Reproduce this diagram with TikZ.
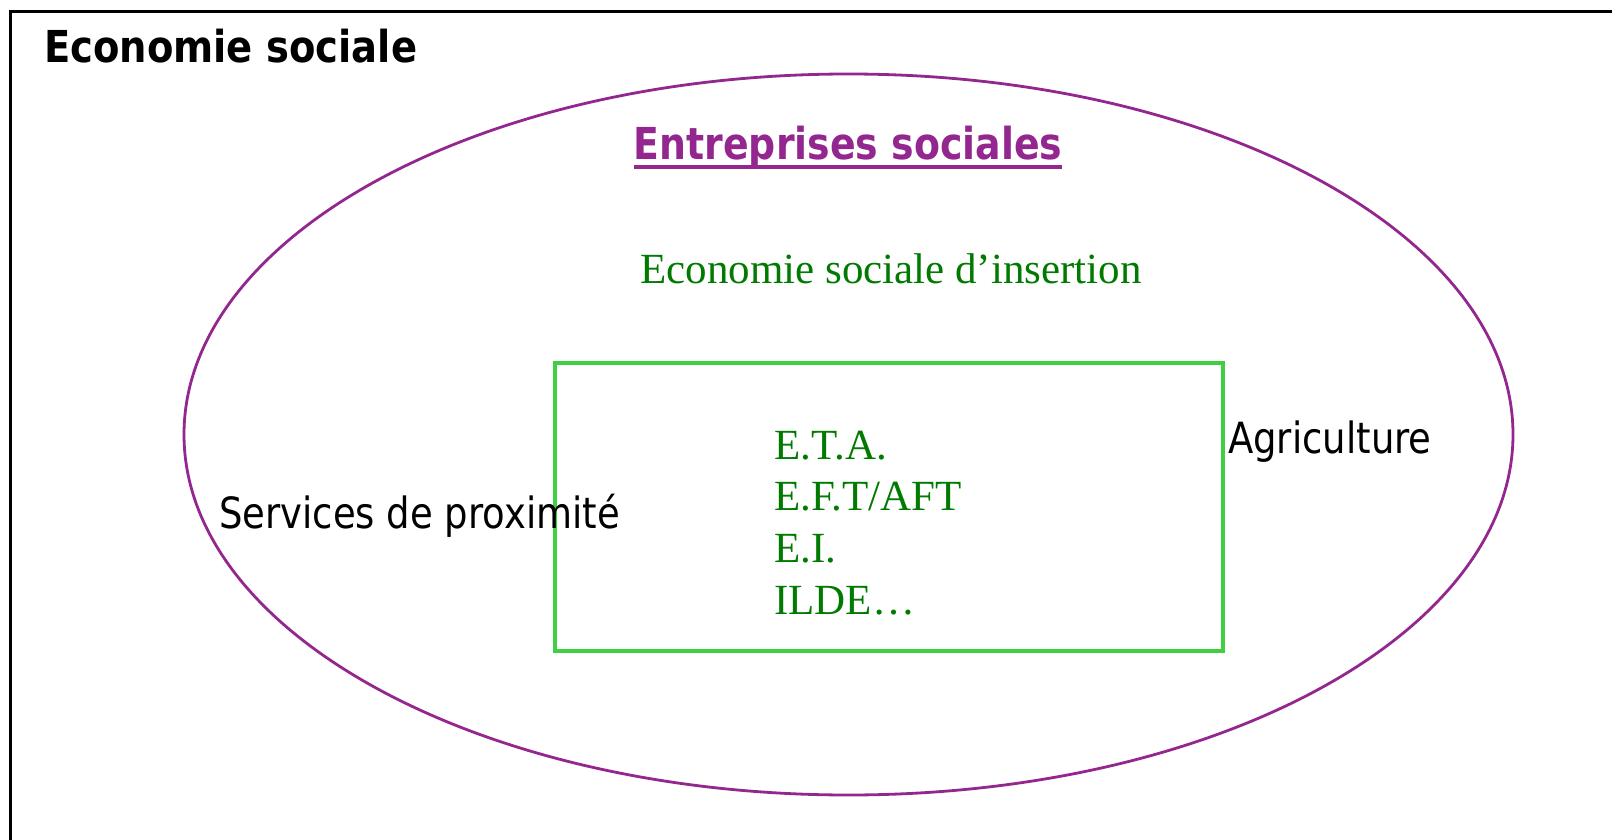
\documentclass[tikz,border=0pt]{standalone}
\usepackage{fontspec}
\usepackage{graphicx}
\setmainfont{Liberation Serif}
\newfontfamily\tahfont{DejaVu Sans}
\newcommand{\squeezetxt}[1]{\scalebox{0.86}[1]{#1}}
\definecolor{frpurple}{HTML}{93278F}
\definecolor{frgreen}{HTML}{007A00}
\definecolor{boxgreen}{HTML}{3ECF43}
\tikzset{
  txt/.style={inner sep=0pt, anchor=base west},
  sanstxt/.style={txt, font=\tahfont\fontsize{43}{48}\selectfont},
  serifgreen/.style={txt, text=frgreen, font=\fontsize{43}{48}\selectfont},
}
\begin{document}
\begin{tikzpicture}[x=1pt,y=-1pt]
\useasboundingbox (0,0) rectangle (1612,840);
\clip (0,0) rectangle (1612,840);
\fill[white] (0,0) rectangle (1612,840);
% outer frame
\draw[line width=3pt] (10,12) rectangle (1640,870);
% ellipse
\draw[frpurple, line width=2.8pt] (848.5,434.5) ellipse [x radius=664.5, y radius=360.5];
% green box
\draw[boxgreen, line width=4.5pt] (555,363) rectangle (1223,651);
% texts
\node[sanstxt, font=\tahfont\bfseries\fontsize{44}{48}\selectfont] (title) at (44,63) {\scalebox{0.875}[1]{Economie sociale}};
\node[sanstxt, anchor=base, text=frpurple, font=\tahfont\bfseries\fontsize{44}{48}\selectfont] (ent) at (848,160) {\squeezetxt{Entreprises sociales}};
\draw[frpurple, line width=4pt] ([yshift=-7pt]ent.base west) -- ([yshift=-7pt]ent.base east);
\node[serifgreen] (ins) at (640,283) {Economie sociale d’insertion};
\node[serifgreen] (eta) at (774,459) {E.T.A.};
\node[serifgreen] (eft) at (774,510) {E.F.T/AFT};
\node[serifgreen] (ei) at (774,562) {E.I.};
\node[serifgreen] (ilde) at (774,614) {ILDE…};
\node[sanstxt] (serv) at (219,528) {\squeezetxt{Services de proximité}};
\node[sanstxt] (agri) at (1228,453) {\squeezetxt{Agriculture}};
\end{tikzpicture}
\end{document}
